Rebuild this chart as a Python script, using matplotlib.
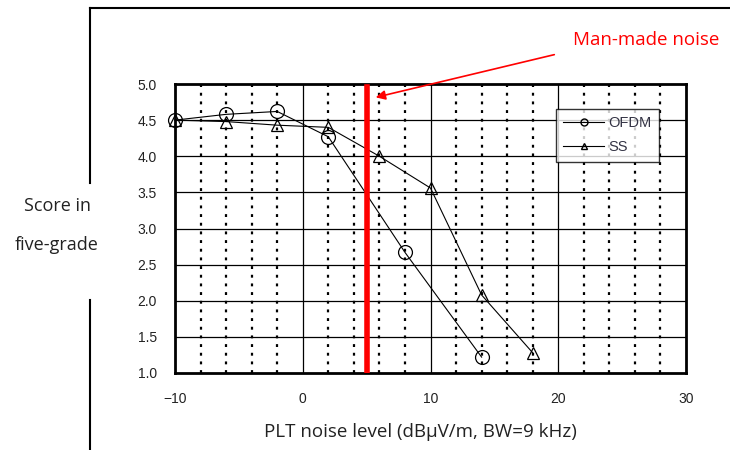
import matplotlib
matplotlib.use("Agg")
import matplotlib.pyplot as plt
from matplotlib.lines import Line2D

# Data
ofdm_x = [-10, -6, -2, 2, 8, 14]
ofdm_y = [4.50, 4.58, 4.62, 4.27, 2.67, 1.22]
ss_x = [-10, -6, -2, 2, 6, 10, 14, 18]
ss_y = [4.50, 4.48, 4.43, 4.40, 4.00, 3.56, 2.08, 1.28]
x_ticks = [-10, 0, 10, 20, 30]
x_tick_labels = ["\u221210", "0", "10", "20", "30"]
y_ticks = [1.0, 1.5, 2.0, 2.5, 3.0, 3.5, 4.0, 4.5, 5.0]
minor_x = [-8, -6, -4, -2, 2, 4, 6, 8, 12, 14, 16, 18, 22, 24, 26, 28]
man_made_x = 5

fig = plt.figure(figsize=(7.3, 4.5), dpi=100)
ax = fig.add_axes([175/730, 1-373/450, (686-175)/730, (373-84)/450])
ax.set_xlim(-10, 30)
ax.set_ylim(1.0, 5.0)

# grid
for v in x_ticks[1:-1]:
    ax.axvline(v, color="black", lw=0.9, zorder=1)
for v in y_ticks[1:-1]:
    ax.axhline(v, color="black", lw=0.9, zorder=1)
for v in minor_x:
    ax.axvline(v, color="black", lw=1.6, ls=(0, (1.3, 2.6)), zorder=1)

for s in ax.spines.values():
    s.set_linewidth(2.0)
    s.set_color("black")

ax.set_xticks(x_ticks)
ax.set_xticklabels(x_tick_labels)
ax.set_yticks(y_ticks)
ax.set_yticklabels([f"{v:.1f}" for v in y_ticks])
ax.tick_params(length=0, labelsize=10, colors="#222222")
ax.tick_params(axis="y", pad=13)
ax.tick_params(axis="x", pad=14)
for lab in ax.get_xticklabels() + ax.get_yticklabels():
    lab.set_fontfamily("Liberation Sans")

ax.plot(ofdm_x, ofdm_y, color="black", lw=0.8, marker="o", ms=10,
        mfc="none", mec="black", mew=0.9, zorder=3, clip_on=False)
ax.plot(ss_x, ss_y, color="black", lw=0.8, marker="^", ms=8.5,
        mfc="none", mec="black", mew=0.9, zorder=3, clip_on=False)

ax.axvline(man_made_x, ymin=0, ymax=0.99, color="#ff0000", lw=4, zorder=4)

# legend
h1 = Line2D([], [], color="black", lw=0.8, marker="o", ms=5, mfc="none", mec="black")
h2 = Line2D([], [], color="black", lw=0.8, marker="^", ms=5, mfc="none", mec="black")
leg = ax.legend([h1, h2], ["OFDM", "SS"], loc="upper left",
                bbox_to_anchor=((556-175)/511, (373-109)/289),
                frameon=True, fancybox=False, edgecolor="black",
                prop={"family": "Liberation Sans", "size": 10.5},
                handlelength=2.8, borderpad=0.5, labelspacing=0.7,
                handletextpad=0.3, borderaxespad=0)
leg.get_frame().set_linewidth(1.0)
for t in leg.get_texts():
    t.set_color("#333344")

# outer frame lines
fig.add_artist(Line2D([90/730, 1.0], [1-8/450, 1-8/450], color="black", lw=1.5))
fig.add_artist(Line2D([90/730, 90/730], [1-8/450, 1-183/450], color="black", lw=1.5))
fig.add_artist(Line2D([90/730, 90/730], [1-300/450, 0.0], color="black", lw=1.5))

# labels
fig.text(57/730, 1-206/450, "Score in", ha="center", va="center",
         fontsize=13, family="Open Sans", color="#222222")
fig.text(57/730, 1-245/450, "five-grade", ha="center", va="center",
         fontsize=13, family="Open Sans", color="#222222")
fig.text(420/730, 1-432/450, "PLT noise level (dB\u03bcV/m, BW=9 kHz)",
         ha="center", va="center", fontsize=13.5, family="Open Sans", color="#222222")

fig.text(646/730, 1-40/450, "Man-made noise", ha="center", va="center",
         fontsize=13.5, family="Open Sans", color="#ff0000")
ax.annotate("", xy=(373/730, 1-98/450), xycoords="figure fraction",
            xytext=(557/730, 1-54/450), textcoords="figure fraction",
            arrowprops=dict(arrowstyle="-|>", color="#ff0000", lw=1.2,
                            mutation_scale=14), annotation_clip=False)

fig.savefig("out.png", dpi=100)
